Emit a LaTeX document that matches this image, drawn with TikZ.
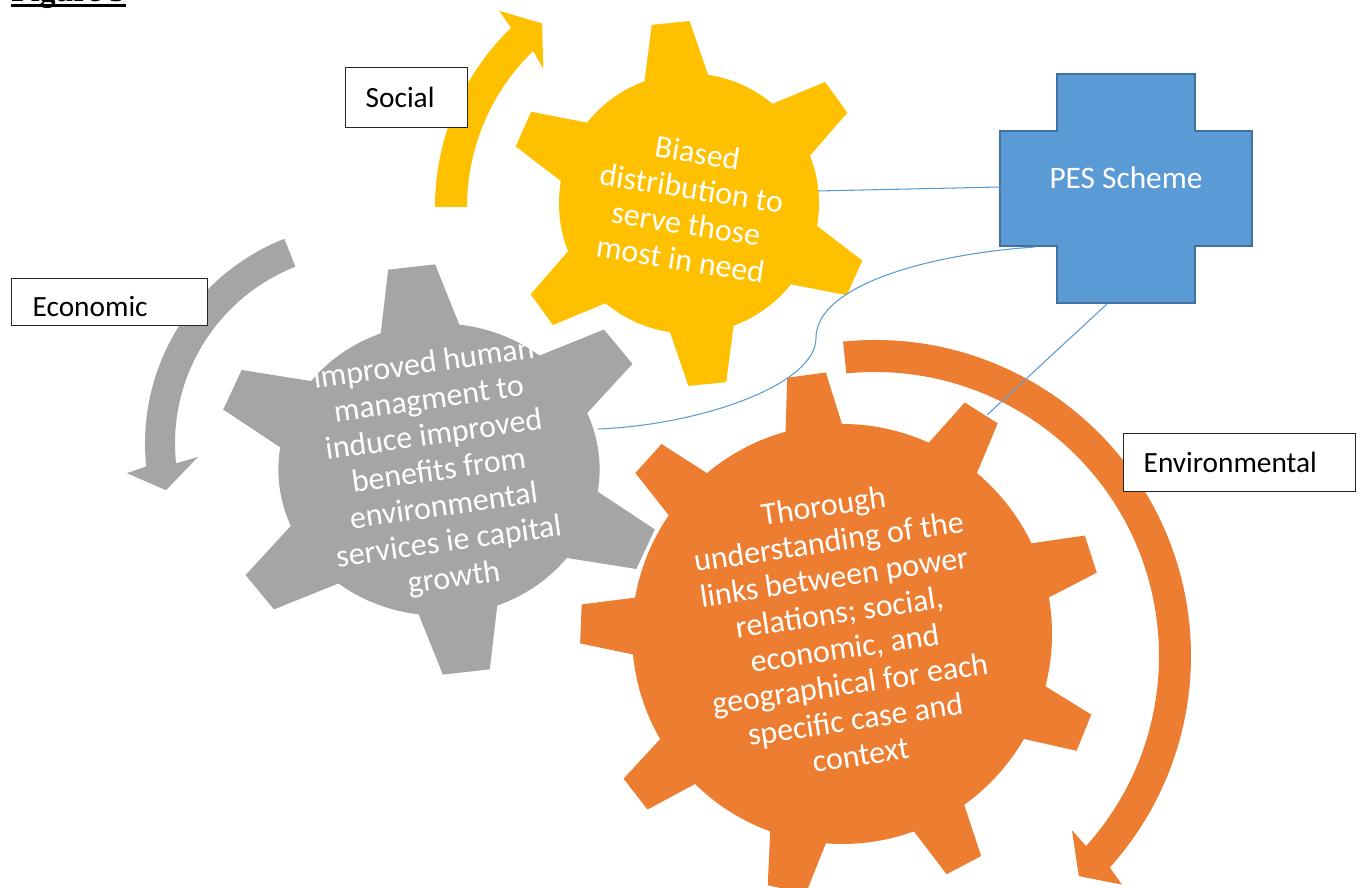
\documentclass[tikz,border=0pt]{standalone}
\usepackage{fontspec}
\setmainfont{Carlito}
\newfontfamily\figfont{Liberation Serif}
\usetikzlibrary{calc}

\definecolor{gearyellow}{HTML}{FFC000}
\definecolor{geargray}{HTML}{A5A5A5}
\definecolor{gearorange}{HTML}{ED7D31}
\definecolor{pesblue}{HTML}{5B9BD5}
\definecolor{pesedge}{HTML}{41719C}
\definecolor{linkblue}{HTML}{5B9BD5}

% cog: #1 teeth, #2 angle of first tooth, #3 body radius,
% #4/#5 inner end of a tooth (radius, half width), #6/#7 tooth tip (radius, half width)
\newcommand{\cogwheel}[7]{%
  \fill (0,0) circle[radius=#3];
  \foreach \k in {1,...,#1}{%
    \fill[rotate={#2+360/#1*(\k-1)}] (#4,-#5) -- (#6,-#7) -- (#6,#7) -- (#4,#5) -- cycle;
  }%
}

\tikzset{
  geartext/.style={text=white, align=center, inner sep=0pt,
    font=\fontsize{24}{27}\selectfont},
  labelbox/.style={draw=black!85, line width=1pt, fill=white, anchor=north west,
    align=left, inner ysep=0pt, font=\fontsize{22}{26}\selectfont},
  link/.style={draw=linkblue, line width=0.8pt},
}

\begin{document}
\begin{tikzpicture}[x=0.75pt, y=0.75pt]
\useasboundingbox (0,0) rectangle (1361,888);
\clip (0,0) rectangle (1361,888);

% heading, mostly above the page edge
\node[anchor=base west, inner sep=0pt, font=\figfont\bfseries\fontsize{24}{28}\selectfont]
  (figtitle) at (11,886) {Figure 3};
\fill (11,881) rectangle (126,884);

% circular arrows
\begin{scope}[shift={(684,681)}, fill=gearyellow]
  \fill (180:249) arc[start angle=180, end angle=134, radius=249]
    -- (133.3:269.5) -- (127.7:232) -- (135.6:197)
    -- (134:217) arc[start angle=134, end angle=180, radius=217] -- cycle;
\end{scope}
\begin{scope}[shift={(365,444.5)}, fill=geargray]
  \fill (111.5:220) arc[start angle=111.5, end angle=186, radius=220]
    -- (187.1:240) -- (193.2:204.4) -- (184.6:167.5)
    -- (186:190) arc[start angle=186, end angle=111.5, radius=190] -- cycle;
\end{scope}
\begin{scope}[shift={(875,232)}, fill=gearorange]
  \fill (95.8:316) arc[start angle=95.8, end angle=-42, radius=316]
    -- (-42.8:336.5) -- (-47.2:300) -- (-41.5:263)
    -- (-42:284) arc[start angle=-42, end angle=95.8, radius=284] -- cycle;
\end{scope}

% gears
\begin{scope}[shift={(439,418.5)}, xscale=1.1, fill=geargray]
  \cogwheel{6}{97}{146}{120}{41}{204}{21.5}
\end{scope}
\begin{scope}[shift={(689,684.5)}, fill=gearyellow]
  \cogwheel{6}{95.8}{130}{105}{36.9}{181.5}{19}
\end{scope}
\begin{scope}[shift={(842,254)}, fill=gearorange]
  \cogwheel{9}{97.8}{210}{190}{31.5}{261.3}{19.5}
\end{scope}

% gear texts
\node[geartext, rotate=-9] (social-text) at (689,682)
  {Biased\\distribution to\\serve those\\most in need};
\node[geartext, rotate=8] (economic-text) at (439,416)
  {improved human\\managment to\\induce improved\\benefits from\\environmental\\services ie capital\\growth};
\node[geartext, rotate=8.5] (environmental-text) at (842,258)
  {Thorough\\understanding of the\\links between power\\relations; social,\\economic, and\\geographical for each\\specific case and\\context};

% PES scheme cross
\draw[fill=pesblue, draw=pesedge, line width=1.5pt]
  (1057,814) -- (1195,814) -- (1195,757) -- (1252,757) -- (1252,642)
  -- (1195,642) -- (1195,585) -- (1057,585) -- (1057,642) -- (1000,642)
  -- (1000,757) -- (1057,757) -- cycle;
\node[text=white, inner sep=0pt, font=\fontsize{23.5}{28}\selectfont] (pes) at (1126,710) {PES Scheme};

% connector ends
\coordinate (pesW) at (1001,701);
\coordinate (pesSW) at (1035,641);
\coordinate (pesS) at (1107,584);
\coordinate (yellowE) at (818,697);
\coordinate (grayE) at (598,459);
\coordinate (orangeNE) at (987,473);
\coordinate (bend) at (816,550);

\draw[link] (yellowE) -- (pesW);
\draw[link] (pesSW) .. controls (930,634) and (816,603) .. (bend)
  .. controls (816,503) and (700,463) .. (grayE);
\draw[link] (pesS) -- (orangeNE);

% labels
\node[labelbox, minimum width=91.5pt, minimum height=45pt, inner xsep=15pt, text width=61.5pt]
  (social) at (345,821) {Social};
\node[labelbox, minimum width=147pt, minimum height=35.25pt, inner xsep=15.75pt, text width=115.5pt,
  text height=21pt, text depth=0pt]
  (economic) at (11,610) {Economic};
\node[labelbox, minimum width=174.4pt, minimum height=43.5pt, inner xsep=15.4pt, text width=143.6pt]
  (environmental) at (1122.5,455) {Environmental};
\end{tikzpicture}
\end{document}
